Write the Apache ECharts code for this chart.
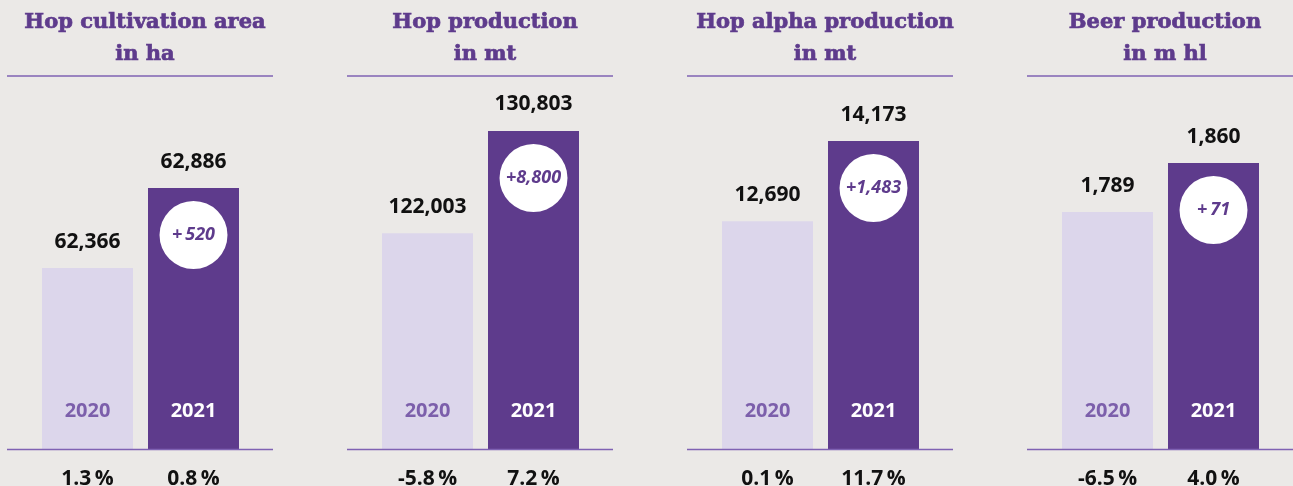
<!DOCTYPE html>
<html>
<head>
<meta charset="utf-8">
<script src="https://cdn.jsdelivr.net/npm/echarts@6/dist/echarts.min.js"></script>
<style>
  html, body { margin: 0; padding: 0; background: #ebe9e7; }
  #chart { width: 1293px; height: 486px; }
</style>
</head>
<body>
<div id="chart"></div>
<script>
// data
const years = ['2020', '2021'];
const titles = [
  'Hop cultivation area\nin ha',
  'Hop production\nin mt',
  'Hop alpha production\nin mt',
  'Beer production\nin m hl'
];
const values = [
  [62366, 62886],
  [122003, 130803],
  [12690, 14173],
  [1789, 1860]
];
const changes = [
  ['1.3\u2009%', '0.8\u2009%'],
  ['-5.8\u2009%', '7.2\u2009%'],
  ['0.1\u2009%', '11.7\u2009%'],
  ['-6.5\u2009%', '4.0\u2009%']
];
const deltas = ['+\u2009520', '+8,800', '+1,483', '+\u200971'];
// value axis ranges (bars in the original are not drawn from zero)
const axisMin = [61190, 103450, 8485, 1446];
const axisMax = [63614, 135534, 15374, 1986];

const purple = '#5e3b8c';
const lilac = '#dcd6eb';
const lineColor = '#7f62b3';
const panelLeft = [7, 347, 687, 1027];

let myChart = echarts.init(document.getElementById('chart'));

let title = [], grid = [], xAxis = [], yAxis = [], series = [], graphic = [];

for (let i = 0; i < 4; i++) {
  let off = panelLeft[i];
  title.push({
    text: titles[i],
    left: off + 133,
    top: 2,
    textAlign: 'center',
    textStyle: {
      fontFamily: 'DejaVu Serif',
      fontWeight: 'bold',
      fontSize: 21,
      lineHeight: 32,
      color: purple,
      textBorderColor: purple,
      textBorderWidth: 0.7
    }
  });
  // labels below may run past the bottom edge, as in the original
  grid.push({ left: off + 27.5, width: 212, top: 76, height: 373, outerBoundsMode: 'none', containLabel: false });
  // percent change below the baseline
  xAxis.push({
    gridIndex: i,
    type: 'category',
    data: years,
    axisLine: { show: false },
    axisTick: { show: false },
    axisLabel: {
      margin: 20,
      formatter: (v, idx) => changes[i][idx],
      fontFamily: 'Open Sans',
      fontWeight: 'bold',
      fontSize: 21,
      color: '#111'
    }
  });
  // year labels inside the bars
  xAxis.push({
    gridIndex: i,
    type: 'category',
    position: 'bottom',
    data: years,
    z: 10,
    axisLine: { show: false },
    axisTick: { show: false },
    axisLabel: {
      inside: true,
      margin: 28,
      formatter: (v, idx) => idx === 0 ? '{a|' + v + '}' : '{b|' + v + '}',
      rich: {
        a: { fontFamily: 'Open Sans', fontWeight: 'bold', fontSize: 20, color: '#7c5fab' },
        b: { fontFamily: 'Open Sans', fontWeight: 'bold', fontSize: 20, color: '#fff' }
      }
    }
  });
  yAxis.push({ gridIndex: i, type: 'value', min: axisMin[i], max: axisMax[i], show: false });
  series.push({
    type: 'bar',
    xAxisIndex: i * 2,
    yAxisIndex: i,
    barWidth: 91,
    data: values[i].map((v, idx) => ({
      value: v,
      itemStyle: { color: idx === 0 ? lilac : purple }
    })),
    label: {
      show: true,
      position: 'top',
      distance: 16,
      formatter: p => p.value.toLocaleString('en-US'),
      fontFamily: 'Open Sans',
      fontWeight: 'bold',
      fontSize: 21,
      color: '#111'
    },
    markPoint: {
      data: [{
        coord: [1, values[i][1]],
        symbol: 'circle',
        symbolSize: 68,
        symbolOffset: [0, 47],
        itemStyle: { color: '#fff' },
        label: {
          show: true,
          formatter: deltas[i],
          fontFamily: 'Open Sans',
          fontStyle: 'italic',
          fontWeight: 'bold',
          fontSize: 18,
          color: purple
        }
      }]
    }
  });
  graphic.push({
    type: 'line',
    shape: { x1: off, y1: 76, x2: off + 266, y2: 76 },
    style: { stroke: lineColor, lineWidth: 1.5 }
  });
  graphic.push({
    type: 'line',
    z: 10,
    shape: { x1: off, y1: 449.5, x2: off + 266, y2: 449.5 },
    style: { stroke: lineColor, lineWidth: 1.5 }
  });
}

myChart.setOption({
  backgroundColor: '#ebe9e7',
  animation: false,
  title: title,
  grid: grid,
  xAxis: xAxis,
  yAxis: yAxis,
  series: series,
  graphic: graphic
});
</script>
</body>
</html>
